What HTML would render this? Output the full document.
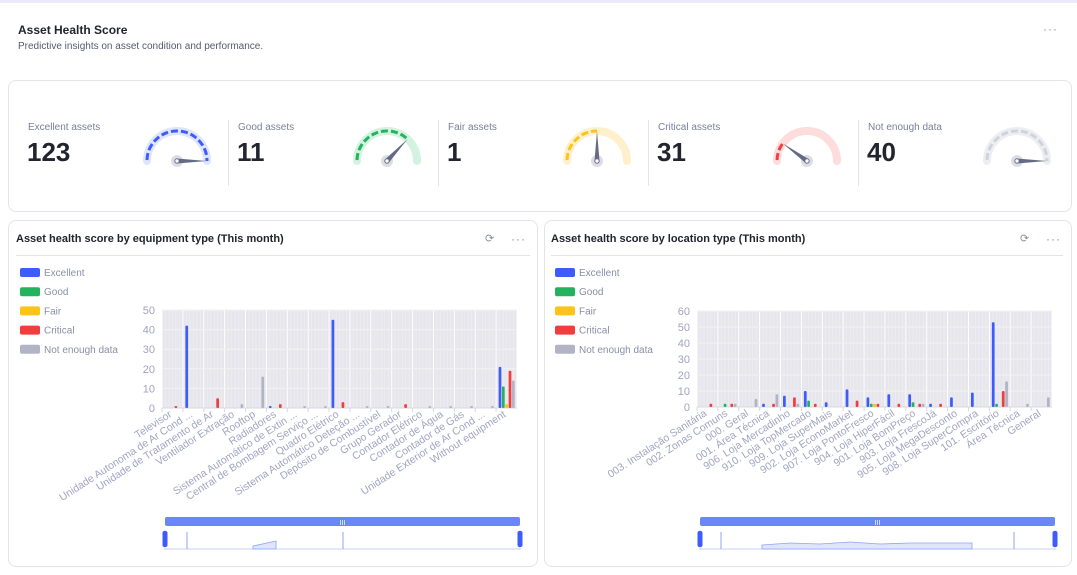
<!DOCTYPE html>
<html><head><meta charset="utf-8">
<style>
body{margin:0;width:1077px;height:575px;background:#fff;font-family:"Liberation Sans",sans-serif;overflow:hidden;position:relative}
.abs{position:absolute}
.card{position:absolute;border:1px solid #e3e4ea;border-radius:8px;background:#fff}
.lbl{position:absolute;font-size:10px;color:#7a7f9a}
.num{position:absolute;font-size:26px;font-weight:bold;color:#22242e}
.div{position:absolute;width:1px;background:#e3e4ea;top:120px;height:66px}
.ct{position:absolute;font-size:11px;font-weight:bold;color:#22242e}
.dots{position:absolute;font-size:12px;color:#8a8ea6;letter-spacing:1px}
</style></head><body>
<div class="abs" style="left:0;top:0;width:1077px;height:3px;background:#ece9fb"></div>
<div class="abs" style="left:18px;top:23px;font-size:12px;font-weight:bold;color:#22242e">Asset Health Score</div>
<div class="abs" style="left:18px;top:41px;font-size:10px;color:#555a70">Predictive insights on asset condition and performance.</div>
<div class="dots" style="left:1043px;top:22px">···</div>
<div class="card" style="left:8px;top:80px;width:1062px;height:130px"></div>
<div id="kpis"></div>

<div class="card" style="left:8px;top:220px;width:528px;height:345px"></div>
<div class="card" style="left:544px;top:220px;width:526px;height:345px"></div>
<div class="ct" style="left:16px;top:233px">Asset health score by equipment type (This month)</div>
<div class="ct" style="left:551px;top:233px">Asset health score by location type (This month)</div>
<div class="abs" style="left:485px;top:232px;font-size:11px;color:#8a8ea6">⟳</div>
<div class="dots" style="left:511px;top:232px">···</div>
<div class="abs" style="left:1020px;top:232px;font-size:11px;color:#8a8ea6">⟳</div>
<div class="dots" style="left:1046px;top:232px">···</div>
<div class="abs" style="left:16px;top:255px;width:514px;height:1px;background:#e3e4ea"></div>
<div class="abs" style="left:551px;top:255px;width:512px;height:1px;background:#e3e4ea"></div>

<svg id="chartsvg" class="abs" style="left:0;top:0" width="1077" height="575"></svg>

<script>
const seriesNames=["Excellent","Good","Fair","Critical","Not enough data"];
const seriesColors=["#3d5cfb","#22b35e","#fcc419","#f03e3e","#b0b4c4"];
const kpiLabels=["Excellent assets","Good assets","Fair assets","Critical assets","Not enough data"];
const kpiValues=[123,11,1,31,40];
const kpiGaugePct=[1.0,0.74,0.5,0.2,1.0];
const kpiColors=["#3d5cfb","#22b35e","#fcc419","#f03e3e","#d0d3dc"];
const kpiLight=["#dfe4ff","#d3f2df","#fff0cc","#fddcdc","#eceef2"];

const eqCats=["Televisor","Unidade Autonoma de Ar Cond ...","Unidade de Tratamento de Ar","Ventilador Extração","Rooftop","Radiadores","Sistema Automático de Extin ...","Central de Bombagem Serviço ...","Quadro Elétrico","Sistema Automático Deteção ...","Depósito de Combustível","Grupo Gerador","Contador Elétrico","Contador de Água","Contador de Gás","Unidade Exterior de Ar Cond ...","Without equipment"];
const eqExcellent=[0,42,0,0,0,1,0,0,45,0,0,0,0,0,0,0,21];
const eqGood=[0,0,0,0,0,0,0,0,0,0,0,0,0,0,0,0,11];
const eqFair=[0,0,0,0,0,0,0,0,0,0,0,0,0,0,0,0,2];
const eqCritical=[1,0,5,0,0,0,2,0,3,0,0,2,0,0,0,0,19].map((v,i)=>v);
const eqNoData=[0,0,0,2,16,0,1,1,0,1,1,0,1,1,1,1,14];
const eqTicks=[0,10,20,30,40,50];

const locCats=["003. Instalação Sanitária","002. Zonas Comuns","000. Geral","001. Área Técnica","906. Loja Mercadinho","910. Loja TopMercado","909. Loja SuperMais","902. Loja EconoMarket","907. Loja PontoFresco","904. Loja HiperFácil","901. Loja BomPreço","903. Loja FrescoJá","905. Loja MegaDesconto","908. Loja SuperCompra","101. Escritório","Área Técnica","General"];
const locExcellent=[0,0,0,2,7,10,3,11,6,8,8,2,6,9,53,0,0];
const locGood=[0,2,0,0,0,4,0,0,2,0,3,0,0,0,2,0,0];
const locFair=[0,0,0,0,0,0,0,0,2,0,0,0,0,0,0,0,0];
const locCritical=[2,2,0,2,6,2,0,4,2,2,2,2,0,0,10,0,0];
const locNoData=[0,2,5,8,2,0,0,0,0,0,2,0,0,0,16,2,6];
const locTicks=[0,10,20,30,40,50,60];
</script>
<script>
// fix equipment critical (Radiadores has 2, Sistema Extin none)
eqCritical[5]=2;eqCritical[6]=0;
const NS="http://www.w3.org/2000/svg";
const svg=document.getElementById('chartsvg');
function mk(tag,attrs,parent){const e=document.createElementNS(NS,tag);for(const k in attrs)e.setAttribute(k,attrs[k]);(parent||svg).appendChild(e);return e;}

// KPIs
const kpiDiv=document.getElementById('kpis');
kpiLabels.forEach((l,i)=>{
  const x0=28+i*210;
  const a=document.createElement('div');a.className='lbl';a.style.left=x0+'px';a.style.top='122px';a.textContent=l;
  
  
  kpiDiv.appendChild(a);
  const n=document.createElement('div');n.className='num';n.style.left=(x0-1)+'px';n.style.top='137px';n.textContent=kpiValues[i];
  
  
  kpiDiv.appendChild(n);
  if(i>0){const d=document.createElement('div');d.className='div';d.style.left=(x0-10)+'px';
  
  
  kpiDiv.appendChild(d);}
  const cx=177+i*210,cy=161,r=30;
  const g=mk('g',{});
  
  
  const arc=(rr)=>`M${cx-rr},${cy} A${rr},${rr} 0 0 1 ${cx+rr},${cy}`;
  mk('path',{d:arc(r),fill:'none',stroke:kpiLight[i],'stroke-width':8,'stroke-linecap':'round'},g);
  const len=Math.PI*r;
  const p=kpiGaugePct[i];
  mk('path',{d:arc(r),fill:'none',stroke:kpiColors[i],'stroke-width':3,'stroke-dasharray':`${(len*p).toFixed(1)} 1000`,'stroke-dashoffset':0,opacity:1},g);
  // dash gaps overlay
  mk('path',{d:arc(r),fill:'none',stroke:kpiLight[i],'stroke-width':4,'stroke-dasharray':'3 7','stroke-dashoffset':-8},g);
  const ang=Math.PI*(1-p);
  const tx=cx+(r)*Math.cos(ang),ty=cy-(r)*Math.sin(ang);
  const nx=-Math.sin(ang)*2.5,ny=-Math.cos(ang)*2.5;
  mk('circle',{cx:cx,cy:cy,r:6,fill:'#dcdde4'},g);
  mk('polygon',{points:`${cx+nx},${cy+ny} ${cx-nx},${cy-ny} ${tx},${ty}`,fill:'#656b84'},g);
  mk('circle',{cx:cx,cy:cy,r:2.2,fill:'#fff',stroke:'#656b84','stroke-width':1},g);
});

function chart(opt){
  const {cats,series,ticks,x0,x1,y0,y1,legendX,prefix}=opt;
  const max=ticks[ticks.length-1];
  const yS=v=>y0-(v/max)*(y0-y1);
  const bw=(x1-x0)/cats.length;
  const xS=i=>x0+i*bw;
  // legend
  seriesNames.forEach((s,k)=>{
    const y=268+k*19.2;
    const r=mk('rect',{x:legendX,y:y,width:20,height:9,rx:2,fill:seriesColors[k]});
    
    
    const t=mk('text',{x:legendX+24,y:y+8,'font-size':10,fill:'#8a8ea6','font-family':'Liberation Sans'});t.textContent=s;
    
    
  });
  // bands
  cats.forEach((c,i)=>{
    const b=mk('rect',{x:xS(i)+0.5,y:y1,width:bw-1,height:y0-y1,fill:'#e6e6ec'});
    
    
    for(let k=1;k<6;k++) mk('line',{x1:xS(i)+k*bw/6,x2:xS(i)+k*bw/6,y1:y1,y2:y0,stroke:'#efeff3','stroke-width':0.6});
  });
  ticks.forEach(t=>{
    mk('line',{x1:x0,x2:x1,y1:yS(t),y2:yS(t),stroke:'#f2f2f6','stroke-width':1});
    const tx=mk('text',{x:x0-7,y:yS(t)+4,'text-anchor':'end','font-size':11,fill:'#a0a4bc','font-family':'Liberation Sans'});tx.textContent=t;
    
    
  });
  mk('line',{x1:x0,x2:x1,y1:y0,y2:y0,stroke:'#d6d8e2'});
  series.forEach((vals,k)=>{
    vals.forEach((v,i)=>{
      if(!v) return;
      const bx=xS(i)+bw*0.12+k*bw*0.16;
      const r=mk('rect',{x:bx,y:yS(v),width:bw*0.13,height:y0-yS(v),rx:1,fill:seriesColors[k]});
      
      
    });
  });
  cats.forEach((c,i)=>{
    const cx=xS(i)+bw/2, cy=y0+8;
    mk('line',{x1:xS(i),x2:xS(i),y1:y0,y2:y0+4,stroke:'#d6d8e2'});
    const t=mk('text',{x:cx,y:cy,'text-anchor':'end','font-size':10.5,fill:'#a0a4c0','font-family':'Liberation Sans',transform:`rotate(-33 ${cx} ${cy})`});
    t.textContent=c;
    
    
  });
  // datazoom
  const zx0=x0+3,zx1=x1+3;
  const z=mk('rect',{x:zx0,y:517,width:zx1-zx0,height:9,rx:2,fill:'#6b86f7'});
  
  
  const zt=mk('text',{x:(zx0+zx1)/2,y:525,'text-anchor':'middle','font-size':7,fill:'#fff','font-family':'Liberation Sans'});zt.textContent='III';
  mk('line',{x1:zx0,x2:zx1,y1:549,y2:549,stroke:'#c9d2f7'});
  mk('line',{x1:zx0,x2:zx0,y1:530,y2:550,stroke:'#c9d2f7'});
  mk('line',{x1:zx1,x2:zx1,y1:530,y2:550,stroke:'#c9d2f7'});
  [zx0,zx1].forEach(hx=>{const h=mk('rect',{x:hx-2.5,y:531,width:5,height:16,rx:2,fill:'#3d5cfb'});
    
    });
  opt.area(zx0,zx1);
}
chart({cats:eqCats,series:[eqExcellent,eqGood,eqFair,eqCritical,eqNoData],ticks:eqTicks,x0:162,x1:517,y0:408,y1:310,legendX:20,prefix:'equipment',
  area:(a,b)=>{mk('path',{d:`M253,549 L253,546 L276,541 L276,549 Z`,fill:'#dfe5fc',stroke:'#8fa3f5','stroke-width':0.8});
   mk('line',{x1:187,x2:187,y1:532,y2:549,stroke:'#8fa3f5'});mk('line',{x1:343,x2:343,y1:532,y2:549,stroke:'#8fa3f5'});}});
chart({cats:locCats,series:[locExcellent,locGood,locFair,locCritical,locNoData],ticks:locTicks,x0:697,x1:1052,y0:407,y1:311,legendX:555,prefix:'location',
  area:(a,b)=>{mk('path',{d:`M762,549 L762,545 L790,543 L820,544 L850,542 L880,544 L910,543 L940,543 L972,543 L972,549 Z`,fill:'#dfe5fc',stroke:'#8fa3f5','stroke-width':0.8});
   mk('line',{x1:721,x2:721,y1:532,y2:549,stroke:'#8fa3f5'});mk('line',{x1:1014,x2:1014,y1:532,y2:549,stroke:'#8fa3f5'});}});
</script>
</body></html>
